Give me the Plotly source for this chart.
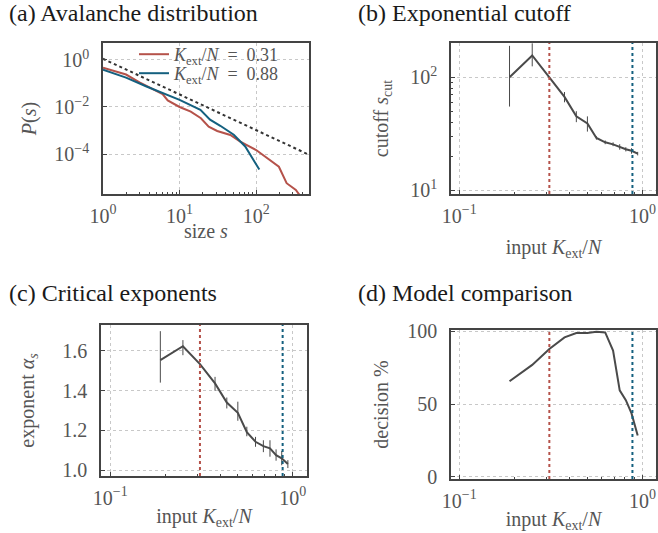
import plotly.graph_objects as go

# ---------------- data ----------------
# (a) avalanche size distributions (log10 P)
s_red = [1, 2, 3, 5, 6, 7, 10, 14, 19, 24, 31, 46, 62, 100, 198, 250, 330, 400]
logp_red = [-0.33, -0.62, -0.95, -1.30, -1.45, -1.72, -2.0, -2.2, -2.48, -2.84,
            -3.02, -3.19, -3.47, -3.83, -4.54, -5.24, -5.53, -5.9]
s_blue = [1, 2, 3.7, 6.2, 10, 18.7, 25, 34, 51, 72, 110]
logp_blue = [-0.42, -0.75, -1.13, -1.41, -1.70, -2.12, -2.54, -2.80, -3.18, -3.68, -4.66]
guide_s = [1, 500]
guide_p = [1.12, 9.0e-5]
p_red = [10 ** v for v in logp_red]
p_blue = [10 ** v for v in logp_blue]
legend_red = "<i>K</i><sub>ext</sub>/<i>N</i>\u2002=\u20020.31"
legend_blue = "<i>K</i><sub>ext</sub>/<i>N</i>\u2002=\u20020.88"

# input K_ext/N
k_in = [0.188, 0.25, 0.31, 0.375, 0.435, 0.5, 0.56, 0.625, 0.69, 0.75, 0.81, 0.87, 0.94]

# (b) exponential cutoff
s_cut = [100, 156, 100, 67, 45, 39, 29, 26.5, 25.4, 24, 23, 22.3, 21]
s_cut_hi = [190, 200, 100, 74, 50, 45, 30, 27.5, 26.5, 25.5, 24, 23.5, 21.8]
s_cut_lo = [55, 125, 100, 60, 40, 33, 28, 25.5, 24.5, 22.8, 22, 21, 20.3]

# (c) critical exponents
alpha_s = [1.553, 1.623, 1.533, 1.436, 1.34, 1.288, 1.19, 1.142, 1.12, 1.109, 1.075, 1.059, 1.03]
alpha_hi = [1.699, 1.654, 1.533, 1.469, 1.365, 1.344, 1.218, 1.167, 1.15, 1.15, 1.104, 1.096, 1.05]
alpha_lo = [1.44, 1.578, 1.533, 1.399, 1.31, 1.248, 1.17, 1.117, 1.09, 1.067, 1.047, 1.024, 1.01]

# (d) model comparison
decision = [65.7, 77, 88, 95.9, 98.9, 98.9, 99.8, 99.3, 86.8, 59.5, 52.7, 43.6, 28.4]

k_markers = [0.31, 0.88]

panel_titles = ["(a) Avalanche distribution", "(b) Exponential cutoff",
                "(c) Critical exponents", "(d) Model comparison"]

# tick labels
a_xticks = [1, 10, 100]
a_xlabels = ["10<sup>0</sup>", "10<sup>1</sup>", "10<sup>2</sup>"]
a_yticks = [1, 1e-2, 1e-4]
a_ylabels = ["10<sup>0</sup>", "10<sup>\u22122</sup>", "10<sup>\u22124</sup>"]
k_ticks = [0.1, 1]
k_labels = ["10<sup>\u22121</sup>", "10<sup>0</sup>"]
b_yticks = [10, 100]
b_ylabels = ["10<sup>1</sup>", "10<sup>2</sup>"]
c_yticks = [1.0, 1.2, 1.4, 1.6]
d_yticks = [0, 50, 100]

# ---------------- styles ----------------
RED = "#b5524a"
BLUE = "#14607f"
DARK = "#4a4a4a"
FRAME = "#444444"
TXT = "#555555"
FONT = "Liberation Serif"

W, H = 658, 533


def px_x(x):
    return x / W


def px_y(y):
    return 1 - y / H


fig = go.Figure()

# panel (a)
fig.add_trace(go.Scatter(x=guide_s, y=guide_p, mode="lines", showlegend=False,
                         line=dict(color="#333333", width=2, dash="dot"),
                         xaxis="x", yaxis="y"))
fig.add_trace(go.Scatter(x=s_red, y=p_red, mode="lines", name=legend_red,
                         legend="legend",
                         line=dict(color=RED, width=2), xaxis="x", yaxis="y"))
fig.add_trace(go.Scatter(x=s_blue, y=p_blue, mode="lines", name=legend_blue,
                         legend="legend2",
                         line=dict(color=BLUE, width=2), xaxis="x", yaxis="y"))

# panel (b)
fig.add_trace(go.Scatter(
    x=k_in, y=s_cut, mode="lines", showlegend=False,
    line=dict(color=DARK, width=2),
    error_y=dict(type="data", symmetric=False,
                 array=[h - v for h, v in zip(s_cut_hi, s_cut)],
                 arrayminus=[v - l for v, l in zip(s_cut, s_cut_lo)],
                 color=DARK, thickness=1, width=0),
    xaxis="x2", yaxis="y2"))

# panel (c)
fig.add_trace(go.Scatter(
    x=k_in, y=alpha_s, mode="lines", showlegend=False,
    line=dict(color=DARK, width=2),
    error_y=dict(type="data", symmetric=False,
                 array=[h - v for h, v in zip(alpha_hi, alpha_s)],
                 arrayminus=[v - l for v, l in zip(alpha_s, alpha_lo)],
                 color=DARK, thickness=1, width=0),
    xaxis="x3", yaxis="y3"))

# panel (d)
fig.add_trace(go.Scatter(x=k_in, y=decision, mode="lines", showlegend=False,
                         line=dict(color=DARK, width=2), xaxis="x4", yaxis="y4"))

# vertical marker lines in b, c, d
for ax in ["2", "3", "4"]:
    for k, col in zip(k_markers, [RED, BLUE]):
        fig.add_shape(type="line", xref="x" + ax, yref="y" + ax + " domain",
                      x0=k, x1=k, y0=0, y1=1,
                      line=dict(color=col, width=2, dash="dot"), layer="above")


def axis_common(**kw):
    d = dict(showline=True, linecolor=FRAME, linewidth=1.5, mirror=True,
             ticks="inside", tickcolor=FRAME, ticklen=4, tickwidth=1,
             showgrid=True, gridcolor="#c8c8c8", griddash="dot", gridwidth=1,
             zeroline=False, automargin=False,
             tickfont=dict(family=FONT, size=20, color=TXT),
             title_font=dict(family=FONT, size=20, color=TXT))
    d.update(kw)
    return d


minor_log = dict(ticks="inside", ticklen=2, tickcolor=FRAME, dtick="D1", showgrid=False)

legend_style = dict(xanchor="left", yanchor="top", bgcolor="rgba(0,0,0,0)",
                    font=dict(family=FONT, size=18, color=TXT), itemwidth=30)

layout = dict(
    width=W, height=H,
    margin=dict(l=0, r=0, t=0, b=0, autoexpand=False),
    paper_bgcolor="white", plot_bgcolor="white",
    font=dict(family=FONT, color=TXT),
    showlegend=True,
    legend=dict(x=px_x(134), y=px_y(36), **legend_style),
    legend2=dict(x=px_x(134), y=px_y(55), **legend_style),
    # (a)
    xaxis=axis_common(type="log", domain=[px_x(103), px_x(309)], range=[0, 2.69],
                      anchor="y", tickvals=a_xticks, ticktext=a_xlabels,
                      ticklabelstandoff=3, minor=minor_log),
    yaxis=axis_common(type="log", domain=[px_y(194), px_y(43)], range=[-5.7, 0.72],
                      anchor="x", tickvals=a_yticks, ticktext=a_ylabels,
                      ticklabelstandoff=8,
                      title=dict(text="<i>P</i>(<i>s</i>)", standoff=12)),
    # (b)
    xaxis2=axis_common(type="log", domain=[px_x(451), px_x(656)], range=[-1.045, 0.073],
                       anchor="y2", tickvals=k_ticks, ticktext=k_labels, minor=minor_log,
                       ticklabelstandoff=3,
                       title=dict(text="input <i>K</i><sub>ext</sub>/<i>N</i>", standoff=14)),
    yaxis2=axis_common(type="log", domain=[px_y(194), px_y(43)], range=[0.965, 2.304],
                       anchor="x2", tickvals=b_yticks, ticktext=b_ylabels, minor=minor_log,
                       ticklabelstandoff=8,
                       title=dict(text="cutoff <i>s</i><sub>cut</sub>", standoff=16)),
    # (c)
    xaxis3=axis_common(type="log", domain=[px_x(101), px_x(307)], range=[-1.051, 0.078],
                       anchor="y3", tickvals=k_ticks, ticktext=k_labels, minor=minor_log,
                       ticklabelstandoff=3,
                       title=dict(text="input <i>K</i><sub>ext</sub>/<i>N</i>", standoff=1)),
    yaxis3=axis_common(domain=[px_y(476), px_y(325)], range=[0.97, 1.73],
                       anchor="x3", tickvals=c_yticks, tickformat=".1f",
                       ticklabelstandoff=8,
                       title=dict(text="exponent <i>\u03b1<sub>s</sub></i>", standoff=22)),
    # (d)
    xaxis4=axis_common(type="log", domain=[px_x(451), px_x(656)], range=[-1.045, 0.073],
                       anchor="y4", tickvals=k_ticks, ticktext=k_labels, minor=minor_log,
                       ticklabelstandoff=3,
                       title=dict(text="input <i>K</i><sub>ext</sub>/<i>N</i>", standoff=8)),
    yaxis4=axis_common(domain=[px_y(479), px_y(330)], range=[-1.5, 101],
                       anchor="x4", tickvals=d_yticks,
                       ticklabelstandoff=8,
                       title=dict(text="decision %", standoff=13)),
)
fig.update_layout(**layout)

# x-axis title of panel (a), placed right under its tick labels
fig.add_annotation(text="size <i>s</i>", x=px_x(206), y=px_y(231), xref="paper", yref="paper",
                   xanchor="center", yanchor="middle", showarrow=False,
                   font=dict(family=FONT, size=20, color=TXT))

title_pos = [(7, 13), (356, 13), (7, 293), (356, 293)]
for t, (xp, yp) in zip(panel_titles, title_pos):
    fig.add_annotation(text=t, x=px_x(xp), y=px_y(yp), xref="paper", yref="paper",
                       xanchor="left", yanchor="middle", showarrow=False,
                       font=dict(family=FONT, size=24, color="#1a1a1a"))

fig.write_html("out.html", config={"displayModeBar": False},
               post_script="document.body.style.margin='0';document.body.style.padding='0';")
